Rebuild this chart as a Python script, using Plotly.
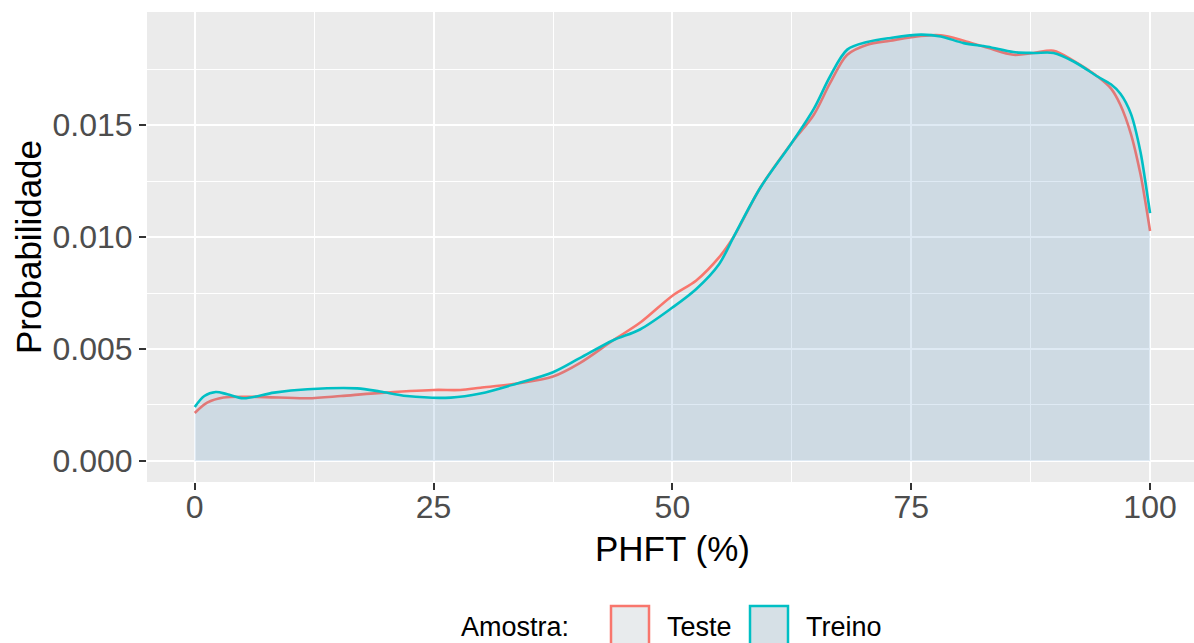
import plotly.graph_objects as go

# ---- data (density estimates) ----
treino_x = [0, 1, 2.2, 3.4, 5.1, 8.3, 11.8, 17, 19.4, 22.2, 26.8, 29.9, 33.75, 37.5, 40.3,
            43.8, 46.6, 50, 52.5, 54.9, 56.4, 59.2, 62.5, 64.8, 66.5, 68.3, 70.4, 72.8, 76,
            78.1, 80.5, 83, 85.7, 87.8, 89.9, 92, 94.5, 95.9, 96.9, 98, 99, 99.5, 100]
treino_y = [0.00241, 0.0029, 0.00308, 0.00298, 0.0028, 0.00305, 0.0032, 0.00324, 0.0031,
            0.0029, 0.00283, 0.00301, 0.00346, 0.00396, 0.00459, 0.00539, 0.00587, 0.00685,
            0.00768, 0.0088, 0.0100, 0.0122, 0.01421, 0.01572, 0.01717, 0.01837, 0.01871,
            0.01889, 0.01904, 0.01896, 0.01866, 0.0185, 0.01826, 0.01822, 0.01822, 0.01784,
            0.01717, 0.01682, 0.0164, 0.0155, 0.0138, 0.0125, 0.01107]

teste_x = [0, 1.3, 3.0, 6.5, 11.8, 15.3, 18.8, 25, 27.8, 29.9, 33.75, 37.5, 40.3, 43.8,
           46.6, 50, 52.5, 54.9, 56.4, 59.2, 62.5, 64.8, 66.5, 68.3, 70.4, 72.8, 76, 78.1,
           80.5, 83, 85.7, 87.8, 89.9, 92, 94.5, 95.9, 96.9, 98, 99, 99.5, 100]
teste_y = [0.00214, 0.0026, 0.00283, 0.00286, 0.0028, 0.0029, 0.00302, 0.00317, 0.00317,
           0.00327, 0.00346, 0.00377, 0.00437, 0.00539, 0.00617, 0.00738, 0.00806, 0.0091,
           0.0100, 0.0122, 0.01421, 0.01546, 0.01687, 0.01814, 0.01859, 0.01877, 0.01898,
           0.01901, 0.01877, 0.01845, 0.01814, 0.01822, 0.01832, 0.01787, 0.01717, 0.01664,
           0.0159, 0.0146, 0.0128, 0.0116, 0.01027]

x_ticks = [0, 25, 50, 75, 100]
y_ticks = [0.0, 0.005, 0.010, 0.015]
series_names = ["Teste", "Treino"]
line_colors = ["#F8766D", "#00BFC4"]

FONT = "Liberation Sans, Arial, Helvetica, sans-serif"

fig = go.Figure()
fig.add_trace(go.Scatter(
    x=teste_x, y=teste_y, name=series_names[0], mode="lines",
    line=dict(color=line_colors[0], width=2.6, shape="spline", smoothing=0.9),
    fill="tozeroy", fillcolor="rgba(70,140,190,0.05)", showlegend=False))
fig.add_trace(go.Scatter(
    x=treino_x, y=treino_y, name=series_names[1], mode="lines",
    line=dict(color=line_colors[1], width=2.6, shape="spline", smoothing=0.9),
    fill="tozeroy", fillcolor="rgba(70,140,190,0.13)", showlegend=False))

# panel: x 147..1194 px (clipped at right edge), y 12..482 px
W, H = 1194, 643
L, R, T, B = 147, 1194, 12, 482
def px(x): return (x - L) / (R - L)
def py(y): return (B - y) / (B - T)

fig.update_layout(
    width=W, height=H,
    margin=dict(l=L, r=W - R, t=T, b=H - B),
    paper_bgcolor="white", plot_bgcolor="#EBEBEB",
    font=dict(family=FONT),
    showlegend=False,
    xaxis=dict(range=[-5, 104.6], tickvals=x_ticks, ticktext=[str(v) for v in x_ticks],
               showgrid=True, gridcolor="white", gridwidth=2.2, zeroline=False,
               ticks="outside", ticklen=7, tickwidth=2, tickcolor="#333333",
               ticklabelstandoff=-10,
               tickfont=dict(size=32, color="#4D4D4D", family=FONT),
               minor=dict(tickvals=[12.5, 37.5, 62.5, 87.5], showgrid=True,
                          gridcolor="white", gridwidth=1.1, ticks=""),
               showline=False),
    yaxis=dict(range=[-0.00094, 0.02005], tickvals=y_ticks,
               ticktext=[f"{v:.3f}" for v in y_ticks],
               showgrid=True, gridcolor="white", gridwidth=2.2, zeroline=False,
               ticks="outside", ticklen=7, tickwidth=2, tickcolor="#333333",
               tickfont=dict(size=32, color="#4D4D4D", family=FONT),
               minor=dict(tickvals=[0.0025, 0.0075, 0.0125, 0.0175], showgrid=True,
                          gridcolor="white", gridwidth=1.1, ticks=""),
               showline=False),
)

annotations = [
    dict(text="PHFT (%)", x=px(672), y=py(548), xref="paper", yref="paper",
         xanchor="center", yanchor="middle", showarrow=False,
         font=dict(size=35, color="black", family=FONT)),
    dict(text="Probabilidade", x=px(28), y=py(247), xref="paper", yref="paper",
         xanchor="center", yanchor="middle", textangle=-90, showarrow=False,
         font=dict(size=35, color="black", family=FONT)),
    dict(text="Amostra:", x=px(571), y=py(627), xref="paper", yref="paper",
         xanchor="right", yanchor="middle", showarrow=False,
         font=dict(size=27, color="black", family=FONT)),
    dict(text="Teste", x=px(665), y=py(627), xref="paper", yref="paper",
         xanchor="left", yanchor="middle", showarrow=False,
         font=dict(size=27, color="black", family=FONT)),
    dict(text="Treino", x=px(804), y=py(627), xref="paper", yref="paper",
         xanchor="left", yanchor="middle", showarrow=False,
         font=dict(size=27, color="black", family=FONT)),
]
shapes = [
    dict(type="rect", xref="paper", yref="paper", x0=px(611), x1=px(649), y0=py(645), y1=py(606),
         fillcolor="#E8EBED", line=dict(color=line_colors[0], width=2.5)),
    dict(type="rect", xref="paper", yref="paper", x0=px(750), x1=px(788), y0=py(645), y1=py(606),
         fillcolor="#D6E0E6", line=dict(color=line_colors[1], width=2.5)),
]
fig.update_layout(annotations=annotations, shapes=shapes)

fig.write_html("out.html")
